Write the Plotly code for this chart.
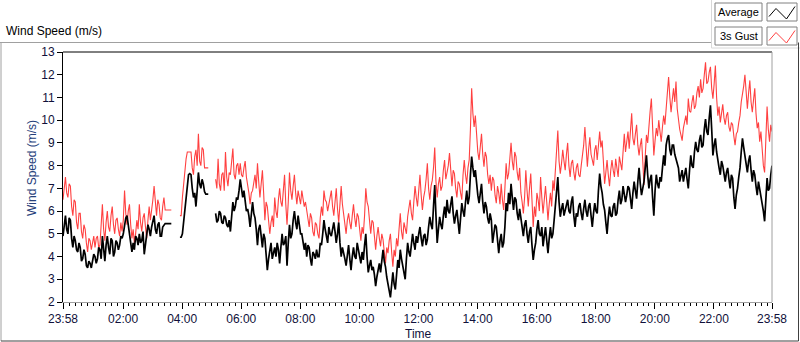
import pandas as pd
import plotly.graph_objects as go

# ---- data (2.5-minute samples, 23:58 -> 23:58 next day) ----
start_time = "2015-01-01 23:58"
end_time = "2015-01-02 23:58"
step = "150s"

# one row per hour (24 samples each); None = no data
average = [
    4.9, 5.5, 5.8, 5.2, 5.0, 5.7, 5.6, 4.8, 4.4, 4.9, 4.7, 4.3, 4.2, 4.6, 4.4, 3.8, 3.9, 4.3, 4.1, 3.6, 3.5, 3.8, 3.7, 3.5,
    3.8, 4.1, 4.0, 3.7, 3.9, 4.4, 4.3, 3.9, 4.9, 4.3, 3.8, 4.5, 4.9, 4.4, 4.1, 4.8, 4.7, 4.0, 4.2, 4.7, 4.6, 4.3, 4.5, 4.9,
    4.8, 5.0, 5.3, 5.7, 5.8, 5.3, 5.1, 4.6, 4.2, 4.6, 4.3, 4.9, 4.8, 4.5, 5.0, 4.6, 4.7, 5.1, 4.1, 4.6, 5.0, 5.4, 5.2, 4.9,
    5.3, 5.6, 5.8, 5.2, 5.0, 5.4, 5.5, 4.9, 4.9, 5.3, 5.4, 5.45, 5.45, 5.45, 5.45, 5.45, 5.45, None, None, None, None, None, None, 4.85,
    4.85, 5.0, 5.5, 5.9, 6.3, 7.1, 7.6, 7.65, 7.6, 7.0, 6.6, 6.8, 6.2, 6.9, 7.7, 7.2, 7.0, 7.4, 7.2, 6.85, 6.75, 6.75, 6.75, None,
    None, None, None, None, 5.9, 5.5, 5.6, 6.0, 5.9, 5.5, 5.45, 5.8, 5.7, 5.4, 5.3, 5.6, 5.1, 5.9, 6.4, 6.0, 6.2, 6.6, 6.5, 6.9,
    7.4, 7.0, 6.6, 6.9, 6.4, 6.0, 6.1, 5.8, 5.3, 5.9, 6.4, 5.9, 5.7, 5.2, 4.5, 5.2, 5.4, 4.9, 4.4, 5.0, 4.8, 4.1, 3.4, 3.9,
    4.2, 4.6, 3.9, 4.2, 4.4, 4.0, 4.6, 4.3, 3.7, 4.4, 5.0, 4.5, 4.6, 4.9, 3.6, 4.6, 5.4, 4.8, 5.0, 5.6, 6.0, 5.5, 5.2, 5.8,
    5.4, 5.0, 5.0, 4.6, 4.3, 4.6, 4.0, 4.5, 4.4, 3.9, 3.6, 4.2, 4.1, 3.9, 4.3, 4.0, 4.0, 4.6, 4.5, 5.0, 5.6, 5.2, 4.9, 4.6,
    5.3, 5.0, 4.9, 5.3, 5.5, 5.1, 4.6, 5.0, 5.5, 4.6, 4.0, 4.4, 4.2, 3.9, 3.6, 4.1, 4.5, 3.9, 3.4, 4.0, 4.4, 4.0, 3.9, 4.6,
    4.3, 3.9, 3.7, 4.2, 3.85, 4.5, 5.0, 4.0, 3.3, 3.6, 3.85, 3.4, 3.55, 3.2, 2.7, 3.1, 3.4, 3.7, 3.3, 3.9, 4.3, 3.8, 3.55, 3.1,
    2.7, 2.5, 2.2, 2.9, 3.3, 2.8, 2.55, 3.2, 3.85, 3.5, 4.3, 3.9, 3.55, 3.3, 3.0, 3.9, 4.6, 4.2, 4.0, 4.5, 5.0, 4.6, 4.3, 4.9,
    4.6, 5.0, 5.3, 4.8, 4.45, 4.9, 5.0, 4.5, 4.75, 5.3, 5.75, 5.4, 5.2, 6.2, 7.15, 5.8, 4.6, 5.2, 5.75, 5.4, 5.2, 5.8, 6.2, 5.7,
    6.5, 6.0, 5.9, 6.3, 6.65, 5.9, 5.45, 5.8, 6.05, 5.5, 5.0, 5.7, 6.35, 6.0, 5.75, 6.4, 6.9, 6.3, 6.6, 7.6, 8.4, 7.9, 7.5, 7.8,
    7.1, 6.7, 6.35, 6.9, 7.2, 6.4, 5.9, 6.4, 6.2, 5.7, 5.45, 5.9, 5.6, 4.6, 5.0, 5.4, 5.3, 4.6, 4.15, 4.7, 5.0, 4.4, 4.6, 5.3,
    6.35, 6.0, 6.8, 6.3, 7.2, 6.6, 6.05, 6.6, 6.5, 5.9, 5.6, 6.1, 5.75, 5.2, 4.9, 5.4, 5.6, 5.0, 4.6, 5.1, 5.3, 4.5, 3.85, 4.3,
    4.6, 5.2, 5.6, 5.0, 4.9, 5.3, 4.45, 4.9, 5.3, 4.7, 4.15, 4.8, 5.3, 4.8, 5.0, 5.6, 6.2, 6.8, 7.5, 6.4, 5.75, 6.1, 6.35, 5.8,
    6.05, 6.3, 6.5, 6.0, 5.9, 6.4, 6.65, 5.8, 5.3, 5.9, 5.75, 6.2, 6.35, 5.9, 5.6, 6.1, 6.5, 6.0, 5.75, 6.2, 6.35, 5.8, 5.3, 5.9,
    6.35, 6.0, 5.9, 6.9, 7.65, 7.1, 6.8, 6.3, 6.05, 5.5, 5.0, 5.7, 6.2, 5.8, 5.75, 6.2, 6.35, 5.8, 5.9, 6.5, 6.9, 6.3, 6.5, 7.1,
    6.8, 6.4, 6.7, 7.1, 7.0, 6.6, 6.1, 6.8, 7.3, 6.9, 6.55, 7.3, 7.9, 7.2, 6.7, 7.0, 7.3, 7.9, 8.45, 7.6, 7.0, 7.4, 7.6, 6.6,
    5.8, 6.9, 7.6, 7.2, 7.0, 7.5, 7.3, 7.9, 8.45, 8.0, 8.9, 9.2, 9.35, 8.7, 8.45, 8.9, 8.9, 8.5, 8.3, 8.0, 7.9, 7.3, 7.6, 7.8,
    7.3, 7.6, 7.9, 7.4, 7.0, 7.8, 8.45, 8.0, 7.9, 8.6, 9.05, 8.7, 8.6, 9.1, 9.35, 8.8, 8.9, 9.6, 10.05, 9.5, 9.35, 10.1, 10.65, 9.6,
    8.45, 8.9, 9.2, 8.6, 8.15, 7.9, 7.6, 8.2, 8.0, 7.6, 7.3, 7.7, 7.9, 7.4, 7.0, 7.6, 7.45, 6.6, 6.1, 6.7, 7.0, 7.5, 7.9, 8.6,
    9.2, 8.8, 8.45, 8.0, 7.7, 8.2, 8.45, 7.8, 7.3, 7.8, 7.6, 7.1, 6.7, 7.3, 7.0, 6.6, 6.4, 6.0, 5.55, 6.6, 7.45, 6.9, 7.0, 7.6,
    8.0,
]

gust_3s = [
    6.5, 7.2, 7.5, 6.8, 6.6, 7.2, 7.1, 6.2, 5.8, 6.5, 6.4, 5.5, 5.2, 5.9, 5.9, 5.1, 4.8, 5.4, 5.2, 4.6, 4.2, 4.8, 4.7, 4.3,
    4.6, 4.9, 4.4, 4.8, 4.9, 4.4, 4.5, 5.3, 6.3, 5.2, 4.7, 5.5, 6.0, 5.3, 5.1, 5.8, 6.2, 5.4, 5.0, 5.6, 5.7, 5.2, 4.9, 5.5,
    5.1, 5.6, 6.9, 5.9, 5.4, 6.0, 6.3, 5.4, 4.8, 5.2, 4.6, 5.0, 5.6, 5.2, 6.3, 5.5, 5.1, 5.7, 5.9, 5.3, 4.8, 5.6, 6.2, 5.6,
    6.0, 6.5, 7.1, 6.2, 5.8, 6.5, 6.3, 5.7, 5.6, 6.2, 6.6, 6.05, 6.05, 6.05, 6.05, 6.05, 6.05, None, None, None, None, None, None, 5.8,
    5.8, 6.6, 7.3, 7.8, 8.3, 8.6, 8.6, 8.6, 8.6, 7.9, 7.6, 8.4, 8.7, 8.0, 9.4, 8.2, 8.0, 8.8, 8.7, 7.9, 7.9, 7.9, 7.9, None,
    None, None, None, None, 7.4, 7.0, 8.3, 7.2, 6.9, 7.6, 7.7, 6.9, 8.6, 7.5, 7.1, 7.7, 7.6, 8.2, 8.75, 7.6, 7.4, 8.0, 8.1, 7.6,
    8.1, 7.6, 7.5, 7.9, 8.2, 7.5, 7.2, 6.8, 6.3, 6.8, 6.9, 7.4, 7.6, 7.0, 8.1, 7.3, 6.6, 7.2, 7.8, 6.8, 5.6, 6.4, 6.2, 5.6,
    5.0, 5.5, 5.8, 5.3, 6.6, 6.0, 5.7, 6.5, 7.0, 6.4, 6.2, 6.9, 7.6, 6.3, 5.4, 6.4, 7.7, 6.9, 6.5, 7.1, 7.6, 6.8, 6.3, 6.9,
    6.6, 6.3, 6.9, 6.5, 6.2, 6.4, 6.0, 5.6, 5.3, 5.9, 5.7, 5.1, 4.9, 5.5, 5.4, 5.0, 4.8, 5.7, 6.2, 5.8, 6.9, 6.5, 6.4, 6.0,
    6.3, 6.6, 6.9, 6.2, 5.8, 6.4, 7.0, 6.1, 5.5, 6.3, 7.1, 6.3, 5.9, 5.4, 5.0, 5.6, 5.9, 5.5, 5.2, 5.8, 6.3, 5.7, 5.3, 5.9,
    5.75, 5.2, 4.7, 5.3, 5.0, 5.8, 7.0, 6.4, 6.2, 5.6, 5.0, 5.6, 5.5, 4.9, 4.3, 4.9, 5.3, 4.8, 4.45, 5.0, 4.75, 4.2, 3.7, 4.4,
    4.15, 4.7, 5.0, 4.2, 3.55, 4.3, 4.0, 4.8, 4.45, 5.2, 5.9, 5.1, 4.75, 5.5, 5.3, 5.0, 5.75, 6.2, 6.5, 5.9, 5.6, 6.4, 7.1, 6.6,
    6.2, 6.9, 7.6, 6.7, 6.05, 6.6, 6.9, 7.4, 8.1, 7.0, 6.5, 7.1, 7.35, 7.9, 8.8, 7.3, 6.6, 7.2, 7.5, 6.9, 7.1, 7.8, 8.25, 7.4,
    7.65, 8.0, 8.55, 7.6, 7.1, 7.8, 7.65, 7.0, 6.6, 7.3, 7.2, 6.8, 6.5, 7.6, 8.25, 7.6, 7.2, 7.9, 8.25, 9.6, 11.4, 10.3, 9.7, 10.2,
    9.25, 8.6, 8.25, 9.0, 9.4, 8.5, 7.95, 8.6, 8.4, 7.6, 7.2, 7.6, 6.9, 7.5, 7.35, 6.7, 6.35, 7.1, 6.8, 6.3, 7.2, 6.5, 6.05, 7.0,
    8.1, 7.4, 7.65, 8.3, 9.0, 8.2, 7.8, 8.6, 8.4, 7.7, 7.35, 7.9, 6.8, 6.4, 5.9, 6.6, 7.8, 6.9, 6.2, 7.0, 7.65, 6.5, 5.3, 6.2,
    5.75, 6.8, 6.5, 6.0, 7.5, 6.6, 5.9, 6.5, 7.1, 6.4, 5.6, 6.3, 6.8, 6.2, 7.35, 6.9, 7.8, 8.6, 9.55, 8.2, 7.65, 8.1, 8.7, 8.2,
    7.8, 8.5, 9.0, 8.0, 7.5, 8.1, 8.25, 7.7, 7.35, 7.9, 8.1, 7.6, 7.5, 8.0, 8.4, 8.9, 9.7, 8.6, 7.95, 8.7, 9.25, 8.5, 8.25, 8.0,
    8.7, 8.9, 8.25, 8.9, 9.5, 8.8, 9.1, 8.2, 7.2, 7.7, 8.25, 7.6, 7.1, 7.8, 8.25, 7.8, 7.5, 8.3, 7.95, 7.5, 8.4, 8.0, 7.8, 8.6,
    9.4, 8.6, 9.05, 9.5, 8.75, 9.4, 10.3, 9.2, 8.9, 9.4, 9.8, 8.9, 8.45, 8.9, 9.2, 8.2, 7.15, 8.4, 9.35, 9.0, 9.9, 10.4, 10.95, 9.5,
    8.45, 9.1, 9.65, 9.3, 10.0, 9.5, 9.05, 9.7, 10.2, 9.8, 10.65, 11.2, 11.9, 11.0, 10.35, 10.9, 11.4, 10.8, 11.7, 10.5, 9.9, 9.6, 9.35, 9.1,
    9.65, 10.0, 10.2, 9.8, 10.95, 10.4, 10.35, 10.8, 11.1, 10.5, 10.65, 11.2, 11.5, 11.0, 11.8, 11.2, 11.4, 12.0, 12.55, 11.6, 11.7, 12.1, 12.35, 11.4,
    10.95, 11.6, 12.4, 11.0, 10.2, 10.6, 9.9, 10.3, 10.7, 10.1, 9.8, 10.2, 10.35, 9.7, 9.5, 9.9, 9.8, 9.3, 8.9, 9.4, 9.5, 9.9, 10.2, 10.8,
    11.1, 11.5, 12.0, 11.1, 10.5, 11.2, 11.75, 10.8, 10.35, 10.9, 11.4, 10.3, 9.65, 9.9, 9.05, 9.5, 8.45, 8.0, 7.7, 9.1, 10.6, 9.6, 9.05, 9.8,
    9.5,
]

x_tick_times = ["2015-01-01 23:58", "2015-01-02 02:00", "2015-01-02 04:00",
                "2015-01-02 06:00", "2015-01-02 08:00", "2015-01-02 10:00",
                "2015-01-02 12:00", "2015-01-02 14:00", "2015-01-02 16:00",
                "2015-01-02 18:00", "2015-01-02 20:00", "2015-01-02 22:00",
                "2015-01-02 23:58"]
x_tick_labels = ["23:58", "02:00", "04:00", "06:00", "08:00", "10:00", "12:00",
                 "14:00", "16:00", "18:00", "20:00", "22:00", "23:58"]
y_ticks = list(range(2, 14))

times = pd.date_range(start_time, periods=len(average), freq=step)

# ---- geometry helpers (pixel -> paper) ----
W, H = 800, 342
ML, MR, MT, MB = 63, 28, 52, 40
PW, PH = W - ML - MR, H - MT - MB


def px(x):
    return (x - ML) / PW


def py(y):
    return (H - MB - y) / PH


FONT = "Liberation Sans"
TICKC = "#10103a"

fig = go.Figure()
fig.add_trace(go.Scatter(x=times, y=gust_3s, mode="lines", name="3s Gust",
                         line=dict(color="#ff4040", width=1.1), showlegend=False))
fig.add_trace(go.Scatter(x=times, y=average, mode="lines", name="Average",
                         line=dict(color="#000000", width=1.7), showlegend=False))

fig.update_xaxes(
    type="date", range=[start_time, end_time],
    tickmode="array", tickvals=x_tick_times, ticktext=x_tick_labels,
    ticks="outside", ticklen=6, tickwidth=1, tickcolor="black",
    minor=dict(ticks="outside", ticklen=3, tickwidth=1, tickcolor="black",
               tickmode="linear", tick0="2015-01-02 00:00", dtick=12 * 60 * 1000),
    showgrid=False, zeroline=False, showline=True, linecolor="#a0a0a0", linewidth=1,
    tickfont=dict(family=FONT, size=12, color=TICKC),
)
fig.update_yaxes(
    range=[2, 13], tickmode="array", tickvals=y_ticks,
    ticks="outside", ticklen=5, tickcolor="black",
    showgrid=False, zeroline=False, showline=True, linecolor="black", linewidth=1,
    tickfont=dict(family=FONT, size=12, color=TICKC),
)

shapes = [
    dict(type="line", xref="paper", yref="paper", x0=0, x1=1, y0=1, y1=1,
         line=dict(color="black", width=1)),
    dict(type="line", xref="paper", yref="paper", x0=1, x1=1, y0=0, y1=1,
         line=dict(color="#a0a0a0", width=1)),
    dict(type="line", xref="paper", yref="paper", x0=px(0), x1=px(711), y0=py(42.5), y1=py(42.5),
         line=dict(color="#a0a0a0", width=1)),
    dict(type="line", xref="paper", yref="paper", x0=px(711.5), x1=px(711.5), y0=py(0), y1=py(48),
         line=dict(color="#d8d8d8", width=1)),
    dict(type="line", xref="paper", yref="paper", x0=px(711.5), x1=px(800), y0=py(48), y1=py(48),
         line=dict(color="#d8d8d8", width=1)),
    dict(type="line", xref="paper", yref="paper", x0=px(1), x1=px(1), y0=py(42.5), y1=py(341),
         line=dict(color="#a0a0a0", width=1)),
    dict(type="line", xref="paper", yref="paper", x0=px(1), x1=px(798.5), y0=py(341), y1=py(341),
         line=dict(color="#404040", width=1)),
    dict(type="line", xref="paper", yref="paper", x0=px(798.5), x1=px(798.5), y0=py(42.5), y1=py(341),
         line=dict(color="#404040", width=1)),
]

for (y0, y1, label, color) in [(3, 21, "Average", "black"), (27, 45, "3s Gust", "#ff4040")]:
    shapes.append(dict(type="rect", xref="paper", yref="paper",
                       x0=px(715), x1=px(762), y0=py(y1), y1=py(y0),
                       line=dict(color="#808080", width=1), fillcolor="white"))
    shapes.append(dict(type="rect", xref="paper", yref="paper",
                       x0=px(767), x1=px(797), y0=py(y1), y1=py(y0),
                       line=dict(color="#808080", width=1), fillcolor="white"))
    pts = [(769, y0 + 13.5), (776, y0 + 5.5), (786.5, y0 + 16), (795, y0 + 3.5)]
    path = "M " + " L ".join(f"{px(a):.5f},{py(b):.5f}" for a, b in pts)
    shapes.append(dict(type="path", xref="paper", yref="paper", path=path,
                       line=dict(color=color, width=1)))

annotations = [
    dict(text="Wind Speed (m/s)", xref="paper", yref="paper", x=px(4), y=py(31),
         xanchor="left", yanchor="middle", showarrow=False,
         font=dict(family=FONT, size=12, color="#000000")),
    dict(text="Wind Speed (m/s)", xref="paper", yref="paper", x=px(32), y=py(168),
         xanchor="center", yanchor="middle", textangle=-90, showarrow=False,
         font=dict(family=FONT, size=12, color="#25407a")),
    dict(text="Time", xref="paper", yref="paper", x=px(418), y=py(334),
         xanchor="center", yanchor="middle", showarrow=False,
         font=dict(family=FONT, size=12, color="#10103a")),
    dict(text="Average", xref="paper", yref="paper", x=px(738.5), y=py(12),
         xanchor="center", yanchor="middle", showarrow=False,
         font=dict(family=FONT, size=11, color="#000000")),
    dict(text="3s Gust", xref="paper", yref="paper", x=px(738.5), y=py(36),
         xanchor="center", yanchor="middle", showarrow=False,
         font=dict(family=FONT, size=11, color="#000000")),
]

fig.update_layout(
    width=W, height=H,
    margin=dict(l=ML, r=MR, t=MT, b=MB, pad=0),
    paper_bgcolor="white", plot_bgcolor="white",
    shapes=shapes, annotations=annotations,
    showlegend=False,
)

fig.write_html("out.html", config={"displayModeBar": False},
               post_script="document.body.style.margin='0';document.body.style.overflow='hidden';")
